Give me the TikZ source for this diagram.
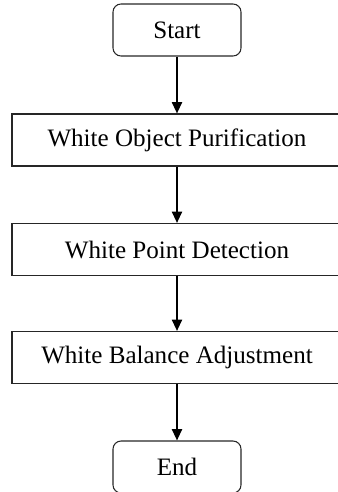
\documentclass[tikz,border=0pt]{standalone}
\usepackage{fontspec}
\setmainfont{Liberation Serif}
\usetikzlibrary{arrows.meta}
\begin{document}
\begin{tikzpicture}[x=0.75pt,y=-0.75pt,
    term/.style={draw=black!85, line width=0.8pt, rounded corners=6pt, minimum width=96pt, minimum height=39pt, inner sep=0pt, font=\fontsize{18.8}{20}\selectfont},
    proc/.style={draw=black!85, line width=0.8pt, minimum width=247.5pt, minimum height=39pt, inner sep=0pt, font=\fontsize{18.8}{20}\selectfont},
    flow/.style={line width=1.5pt, -{Triangle[width=7.5pt,length=8.5pt]}}]
\useasboundingbox (0,0) rectangle (338,492);

\node[term] (start) at (177,30) {Start};
\node[proc] (purif) at (177,140) {White Object Purification};
\node[proc] (detect) at (177,249.5) {White Point Detection};
\node[proc] (adjust) at (177,357.5) {White Balance Adjustment};
\node[term] (end) at (177,467) {End};

\draw[flow] (start) -- (purif);
\draw[flow] (purif) -- (detect);
\draw[flow] (detect) -- (adjust);
\draw[flow] (adjust) -- (end);

\end{tikzpicture}
\end{document}
